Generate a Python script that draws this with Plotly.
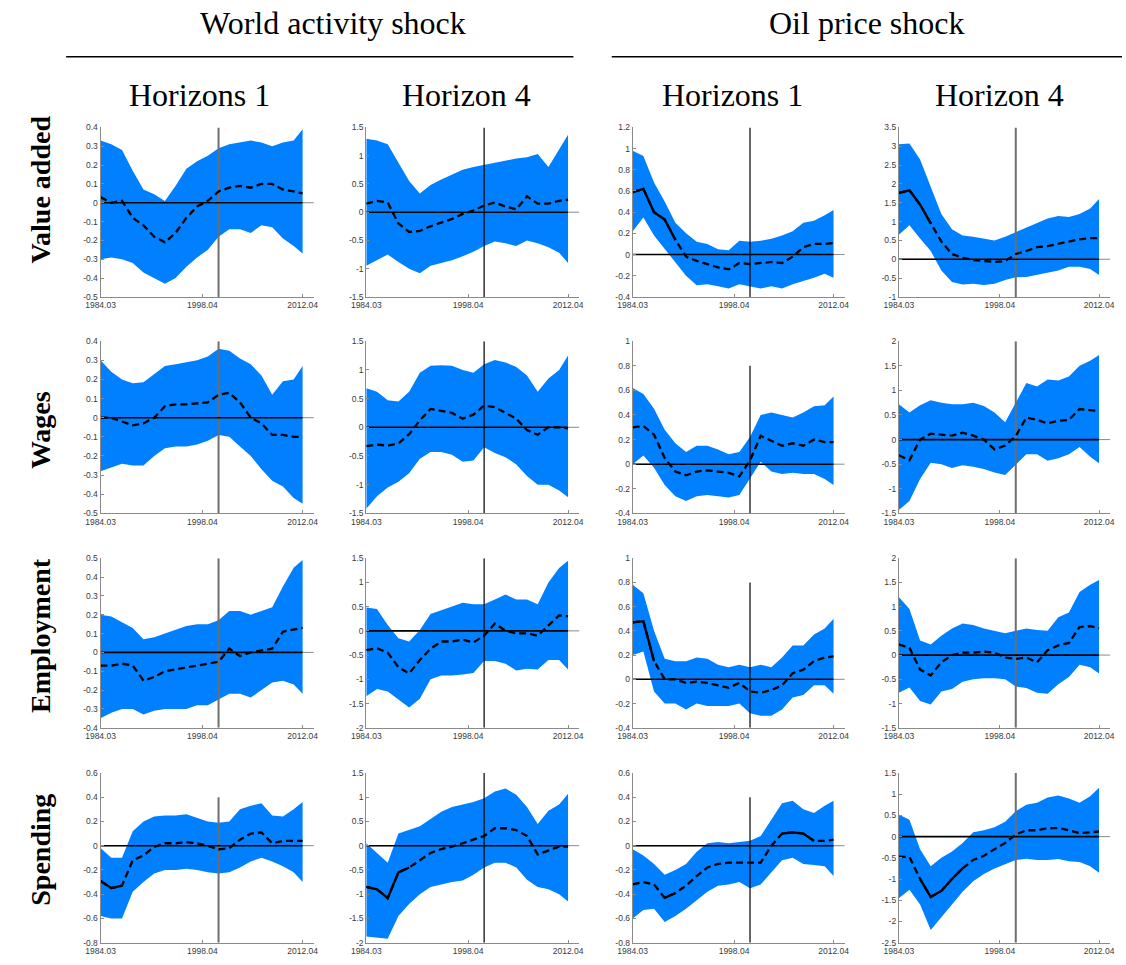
import numpy as np
import plotly.graph_objects as go

# ---------------- data ----------------
QUARTERS = [0, 6, 12, 18, 24, 30, 36, 42, 48, 54, 60, 66, 72, 78, 84, 90, 96, 102, 108, 113]
XTICK_VALS = [0, 57, 113]
XTICK_TEXT = ["1984.03", "1998.04", "2012.04"]
BREAK_Q = 66

SHOCKS = ["World activity shock", "Oil price shock"]
HORIZONS = ["Horizons 1", "Horizon 4", "Horizons 1", "Horizon 4"]
VARIABLES = ["Value added", "Wages", "Employment", "Spending"]

# Value added
va_w1_hi = [0.33, 0.31, 0.28, 0.17, 0.07, 0.045, 0.01, 0.09, 0.18, 0.22, 0.25, 0.29, 0.31, 0.32, 0.33, 0.32, 0.30, 0.32, 0.33, 0.39]
va_w1_lo = [-0.30, -0.29, -0.30, -0.32, -0.37, -0.40, -0.43, -0.40, -0.34, -0.29, -0.25, -0.18, -0.14, -0.14, -0.16, -0.12, -0.13, -0.19, -0.23, -0.27]
va_w1_md = [0.03, 0.00, 0.01, -0.08, -0.12, -0.18, -0.21, -0.16, -0.08, -0.02, 0.01, 0.06, 0.08, 0.09, 0.08, 0.10, 0.10, 0.07, 0.06, 0.05]

va_w4_hi = [1.30, 1.27, 1.20, 0.87, 0.55, 0.33, 0.48, 0.58, 0.67, 0.75, 0.80, 0.84, 0.88, 0.92, 0.95, 0.97, 1.03, 0.80, 1.10, 1.37]
va_w4_lo = [-0.95, -0.85, -0.75, -0.88, -1.00, -1.08, -0.95, -0.90, -0.85, -0.78, -0.70, -0.60, -0.52, -0.55, -0.60, -0.50, -0.55, -0.62, -0.72, -0.90]
va_w4_md = [0.15, 0.20, 0.17, -0.20, -0.35, -0.33, -0.25, -0.18, -0.12, -0.03, 0.03, 0.12, 0.17, 0.10, 0.05, 0.28, 0.15, 0.15, 0.20, 0.22]

va_o1_hi = [0.98, 0.93, 0.68, 0.50, 0.30, 0.20, 0.12, 0.10, 0.05, 0.04, 0.13, 0.12, 0.13, 0.15, 0.18, 0.22, 0.30, 0.32, 0.37, 0.42]
va_o1_lo = [0.22, 0.35, 0.18, 0.05, -0.08, -0.20, -0.29, -0.28, -0.30, -0.32, -0.28, -0.30, -0.32, -0.30, -0.32, -0.28, -0.25, -0.22, -0.18, -0.22]
va_o1_md = [0.59, 0.62, 0.40, 0.33, 0.14, -0.02, -0.06, -0.09, -0.12, -0.14, -0.08, -0.09, -0.08, -0.07, -0.08, -0.02, 0.07, 0.10, 0.10, 0.11]

va_o4_hi = [3.05, 3.07, 2.65, 1.90, 1.20, 0.80, 0.63, 0.60, 0.55, 0.50, 0.60, 0.72, 0.85, 0.95, 1.08, 1.15, 1.12, 1.20, 1.35, 1.60]
va_o4_lo = [0.65, 0.90, 0.55, 0.22, -0.30, -0.60, -0.67, -0.65, -0.68, -0.65, -0.55, -0.48, -0.47, -0.42, -0.37, -0.30, -0.20, -0.20, -0.26, -0.42]
va_o4_md = [1.76, 1.83, 1.45, 0.95, 0.47, 0.14, 0.04, -0.02, -0.05, -0.07, -0.05, 0.14, 0.22, 0.32, 0.35, 0.40, 0.47, 0.53, 0.56, 0.56]

# Wages
wg_w1_hi = [0.30, 0.24, 0.20, 0.18, 0.185, 0.23, 0.27, 0.28, 0.29, 0.30, 0.32, 0.36, 0.35, 0.31, 0.28, 0.22, 0.12, 0.19, 0.20, 0.27]
wg_w1_lo = [-0.28, -0.26, -0.24, -0.25, -0.25, -0.20, -0.16, -0.15, -0.15, -0.14, -0.12, -0.09, -0.10, -0.15, -0.20, -0.27, -0.33, -0.36, -0.42, -0.45]
wg_w1_md = [0.00, 0.00, -0.02, -0.04, -0.03, 0.00, 0.06, 0.07, 0.07, 0.075, 0.08, 0.12, 0.13, 0.08, 0.00, -0.03, -0.09, -0.09, -0.10, -0.10]

wg_w4_hi = [0.68, 0.62, 0.47, 0.45, 0.62, 0.95, 1.07, 1.08, 1.07, 1.00, 0.95, 1.10, 1.17, 1.13, 1.05, 0.90, 0.62, 0.85, 1.00, 1.25]
wg_w4_lo = [-1.42, -1.20, -1.05, -0.95, -0.80, -0.55, -0.43, -0.43, -0.48, -0.60, -0.58, -0.35, -0.45, -0.52, -0.65, -0.85, -1.00, -1.00, -1.10, -1.22]
wg_w4_md = [-0.33, -0.30, -0.32, -0.28, -0.12, 0.12, 0.32, 0.28, 0.25, 0.15, 0.22, 0.38, 0.35, 0.25, 0.15, -0.05, -0.13, 0.00, 0.00, -0.02]

wg_o1_hi = [0.62, 0.57, 0.45, 0.28, 0.17, 0.10, 0.15, 0.15, 0.12, 0.08, 0.10, 0.22, 0.40, 0.42, 0.40, 0.38, 0.42, 0.47, 0.48, 0.55]
wg_o1_lo = [0.00, 0.07, -0.03, -0.17, -0.26, -0.30, -0.26, -0.25, -0.26, -0.27, -0.25, -0.12, 0.02, -0.06, -0.08, -0.07, -0.08, -0.08, -0.12, -0.17]
wg_o1_md = [0.30, 0.31, 0.24, 0.05, -0.06, -0.09, -0.06, -0.05, -0.06, -0.07, -0.10, 0.03, 0.23, 0.19, 0.15, 0.17, 0.15, 0.20, 0.18, 0.18]

wg_o4_hi = [0.72, 0.55, 0.70, 0.80, 0.75, 0.72, 0.72, 0.75, 0.68, 0.55, 0.35, 0.75, 1.15, 1.08, 1.22, 1.20, 1.28, 1.50, 1.60, 1.72]
wg_o4_lo = [-1.43, -1.25, -0.80, -0.47, -0.50, -0.58, -0.52, -0.55, -0.60, -0.67, -0.72, -0.50, -0.30, -0.30, -0.43, -0.38, -0.30, -0.15, -0.35, -0.48]
wg_o4_md = [-0.32, -0.42, 0.00, 0.12, 0.10, 0.08, 0.14, 0.08, 0.00, -0.20, -0.12, 0.07, 0.45, 0.40, 0.33, 0.38, 0.40, 0.62, 0.60, 0.58]

# Employment
em_w1_hi = [0.20, 0.19, 0.16, 0.13, 0.07, 0.08, 0.10, 0.12, 0.14, 0.15, 0.15, 0.17, 0.22, 0.22, 0.20, 0.22, 0.24, 0.35, 0.45, 0.49]
em_w1_lo = [-0.35, -0.32, -0.30, -0.30, -0.33, -0.31, -0.30, -0.30, -0.30, -0.28, -0.28, -0.25, -0.22, -0.22, -0.24, -0.20, -0.16, -0.15, -0.17, -0.22]
em_w1_md = [-0.07, -0.07, -0.06, -0.07, -0.15, -0.13, -0.10, -0.09, -0.08, -0.07, -0.06, -0.05, 0.02, -0.02, 0.00, 0.01, 0.02, 0.11, 0.12, 0.13]

em_w4_hi = [0.48, 0.45, 0.12, -0.15, -0.22, 0.02, 0.35, 0.43, 0.50, 0.58, 0.55, 0.55, 0.65, 0.75, 0.65, 0.65, 0.55, 1.00, 1.30, 1.45]
em_w4_lo = [-1.35, -1.20, -1.25, -1.42, -1.58, -1.40, -1.00, -0.92, -0.92, -0.90, -0.87, -0.62, -0.62, -0.68, -0.82, -0.78, -0.80, -0.60, -0.60, -0.80]
em_w4_md = [-0.40, -0.36, -0.45, -0.75, -0.88, -0.60, -0.37, -0.22, -0.22, -0.18, -0.24, -0.10, 0.15, 0.00, -0.05, -0.05, -0.10, 0.12, 0.32, 0.30]

em_o1_hi = [0.78, 0.71, 0.40, 0.17, 0.15, 0.15, 0.18, 0.17, 0.12, 0.10, 0.12, 0.10, 0.12, 0.10, 0.18, 0.28, 0.28, 0.37, 0.42, 0.50]
em_o1_lo = [0.20, 0.23, -0.10, -0.20, -0.20, -0.25, -0.20, -0.22, -0.22, -0.22, -0.20, -0.28, -0.30, -0.30, -0.25, -0.15, -0.13, -0.05, -0.05, -0.12]
em_o1_md = [0.47, 0.48, 0.15, 0.00, 0.00, -0.03, -0.02, -0.03, -0.05, -0.07, -0.03, -0.10, -0.11, -0.09, -0.05, 0.05, 0.08, 0.15, 0.18, 0.19]

em_o4_hi = [1.20, 0.95, 0.30, 0.22, 0.40, 0.55, 0.65, 0.62, 0.55, 0.50, 0.45, 0.50, 0.55, 0.52, 0.50, 0.78, 0.88, 1.30, 1.45, 1.55]
em_o4_lo = [-0.78, -0.67, -0.95, -1.02, -0.75, -0.70, -0.55, -0.50, -0.48, -0.48, -0.50, -0.65, -0.68, -0.78, -0.80, -0.60, -0.45, -0.20, -0.25, -0.38]
em_o4_md = [0.22, 0.15, -0.30, -0.42, -0.15, 0.00, 0.05, 0.05, 0.07, 0.05, -0.05, -0.08, -0.05, -0.15, 0.10, 0.20, 0.25, 0.58, 0.60, 0.55]

# Spending
sp_w1_hi = [-0.02, -0.10, -0.10, 0.12, 0.20, 0.24, 0.25, 0.25, 0.26, 0.23, 0.20, 0.19, 0.20, 0.30, 0.33, 0.35, 0.25, 0.24, 0.30, 0.36]
sp_w1_lo = [-0.58, -0.60, -0.60, -0.38, -0.30, -0.23, -0.20, -0.20, -0.19, -0.20, -0.22, -0.23, -0.22, -0.18, -0.13, -0.10, -0.13, -0.17, -0.22, -0.30]
sp_w1_md = [-0.29, -0.35, -0.33, -0.12, -0.08, -0.01, 0.02, 0.02, 0.03, 0.02, 0.00, -0.03, -0.02, 0.05, 0.10, 0.11, 0.02, 0.04, 0.04, 0.04]

sp_w4_hi = [0.05, -0.15, -0.35, 0.25, 0.33, 0.40, 0.55, 0.70, 0.80, 0.85, 0.90, 0.98, 1.12, 1.18, 1.05, 0.80, 0.45, 0.72, 0.85, 1.07]
sp_w4_lo = [-1.87, -1.90, -1.92, -1.45, -1.20, -1.00, -0.85, -0.80, -0.75, -0.72, -0.60, -0.45, -0.35, -0.35, -0.45, -0.70, -0.85, -0.90, -1.00, -1.15]
sp_w4_md = [-0.85, -0.90, -1.08, -0.55, -0.45, -0.30, -0.15, -0.07, -0.02, 0.05, 0.12, 0.20, 0.36, 0.36, 0.32, 0.20, -0.18, -0.10, -0.02, -0.02]

sp_o1_hi = [-0.03, -0.08, -0.15, -0.24, -0.20, -0.15, -0.05, 0.02, 0.03, 0.02, 0.03, 0.04, 0.08, 0.22, 0.35, 0.37, 0.30, 0.27, 0.33, 0.37]
sp_o1_lo = [-0.60, -0.53, -0.52, -0.63, -0.58, -0.52, -0.45, -0.38, -0.33, -0.32, -0.30, -0.35, -0.32, -0.22, -0.12, -0.10, -0.15, -0.16, -0.17, -0.25]
sp_o1_md = [-0.32, -0.30, -0.32, -0.43, -0.39, -0.33, -0.25, -0.18, -0.15, -0.14, -0.14, -0.14, -0.14, 0.00, 0.10, 0.11, 0.10, 0.04, 0.04, 0.05]

sp_o4_hi = [0.52, 0.40, -0.30, -0.70, -0.50, -0.35, -0.15, 0.10, 0.15, 0.22, 0.35, 0.60, 0.75, 0.80, 0.92, 0.97, 0.90, 0.80, 0.95, 1.15]
sp_o4_lo = [-1.45, -1.25, -1.60, -2.20, -1.90, -1.60, -1.30, -1.05, -0.88, -0.75, -0.65, -0.55, -0.52, -0.55, -0.55, -0.53, -0.58, -0.60, -0.70, -0.85]
sp_o4_md = [-0.47, -0.48, -1.00, -1.42, -1.28, -1.00, -0.75, -0.55, -0.45, -0.30, -0.15, 0.05, 0.15, 0.15, 0.20, 0.20, 0.15, 0.08, 0.10, 0.12]

# significant (solid) stretches of the median, in quarters
SOLID = {
    (0, 2): [(0, 24)], (0, 3): [(0, 18)],
    (2, 2): [(0, 12)],
    (3, 0): [(0, 12)], (3, 1): [(0, 24)], (3, 2): [(18, 24), (84, 102)], (3, 3): [(12, 36)],
}

# ---------------- panel settings ----------------
PANELS = {
    (0, 0): (va_w1_lo, va_w1_md, va_w1_hi, (-0.5, 0.4), 0.1, None),
    (0, 1): (va_w4_lo, va_w4_md, va_w4_hi, (-1.5, 1.5), 0.5, None),
    (0, 2): (va_o1_lo, va_o1_md, va_o1_hi, (-0.4, 1.2), 0.2, None),
    (0, 3): (va_o4_lo, va_o4_md, va_o4_hi, (-1.0, 3.5), 0.5, None),
    (1, 0): (wg_w1_lo, wg_w1_md, wg_w1_hi, (-0.5, 0.4), 0.1, None),
    (1, 1): (wg_w4_lo, wg_w4_md, wg_w4_hi, (-1.5, 1.5), 0.5, None),
    (1, 2): (wg_o1_lo, wg_o1_md, wg_o1_hi, (-0.4, 1.0), 0.2, 0.8),
    (1, 3): (wg_o4_lo, wg_o4_md, wg_o4_hi, (-1.5, 2.0), 0.5, None),
    (2, 0): (em_w1_lo, em_w1_md, em_w1_hi, (-0.4, 0.5), 0.1, None),
    (2, 1): (em_w4_lo, em_w4_md, em_w4_hi, (-2.0, 1.5), 0.5, None),
    (2, 2): (em_o1_lo, em_o1_md, em_o1_hi, (-0.4, 1.0), 0.2, 0.8),
    (2, 3): (em_o4_lo, em_o4_md, em_o4_hi, (-1.5, 2.0), 0.5, None),
    (3, 0): (sp_w1_lo, sp_w1_md, sp_w1_hi, (-0.8, 0.6), 0.2, 0.4),
    (3, 1): (sp_w4_lo, sp_w4_md, sp_w4_hi, (-2.0, 1.5), 0.5, None),
    (3, 2): (sp_o1_lo, sp_o1_md, sp_o1_hi, (-0.8, 0.6), 0.2, 0.4),
    (3, 3): (sp_o4_lo, sp_o4_md, sp_o4_hi, (-2.5, 1.5), 0.5, None),
}

W, H = 1126, 965
COL_PX = [(87.0, 304.0), (357.3, 574.0), (628.3, 844.0), (899.0, 1114.0)]
ROW_PX = [(123.7, 295.0), (339.7, 513.7), (559.0, 730.3), (776.0, 947.5)]
X_END = 119.3
BAND = "rgb(0,128,255)"
AXIS_GRAY = "#8a8a8a"
TICK_FONT = dict(family="Liberation Sans, Arial, sans-serif", size=8.5, color="#3a3a3a")
SERIF = "Liberation Serif, Times New Roman, serif"

fig = go.Figure()
layout = dict(
    width=W, height=H, margin=dict(l=0, r=0, t=0, b=0),
    paper_bgcolor="white", plot_bgcolor="rgba(0,0,0,0)", showlegend=False,
    annotations=[], shapes=[],
)

for (r, c), (lo, md, hi, yr, dt, vtop) in PANELS.items():
    k = r * 4 + c + 1
    xa, ya = f"x{k}", f"y{k}"
    xkey, ykey = f"xaxis{k}", f"yaxis{k}"
    x0, x1 = COL_PX[c]
    yt, yb = ROW_PX[r]
    yvals = [float(np.round(v, 6)) + 0.0 for v in np.arange(yr[0], yr[1] + dt / 2, dt)]
    layout[xkey] = dict(
        domain=[x0 / W, x1 / W], range=[0, X_END], anchor=ya,
        showgrid=False, zeroline=False, showline=True, linecolor=AXIS_GRAY, linewidth=1,
        ticks="inside", ticklen=3, tickcolor=AXIS_GRAY,
        tickvals=XTICK_VALS, ticktext=XTICK_TEXT, tickfont=TICK_FONT,
    )
    layout[ykey] = dict(
        domain=[1 - yb / H, 1 - yt / H], range=list(yr), anchor=xa,
        showgrid=False, zeroline=False, showline=True, linecolor=AXIS_GRAY, linewidth=1,
        ticks="inside", ticklen=3, tickcolor=AXIS_GRAY,
        tickvals=yvals, ticktext=[f"{v:g}" for v in yvals], tickfont=TICK_FONT,
    )
    # band
    fig.add_trace(go.Scatter(x=QUARTERS, y=lo, mode="lines", line=dict(width=0, color=BAND),
                             hoverinfo="skip", xaxis=xa, yaxis=ya))
    fig.add_trace(go.Scatter(x=QUARTERS, y=hi, mode="lines", line=dict(width=0, color=BAND),
                             fill="tonexty", fillcolor=BAND, hoverinfo="skip", xaxis=xa, yaxis=ya))
    # vertical break line
    vcol, vw = ("#6e6e6e", 2) if c in (0, 3) else ("black", 1.2)
    fig.add_trace(go.Scatter(x=[BREAK_Q, BREAK_Q], y=[yr[0], vtop if vtop is not None else yr[1]],
                             mode="lines", line=dict(color=vcol, width=vw),
                             hoverinfo="skip", xaxis=xa, yaxis=ya))
    # zero lines
    fig.add_trace(go.Scatter(x=[0, X_END], y=[0, 0], mode="lines", line=dict(color="#8a8a8a", width=1),
                             hoverinfo="skip", xaxis=xa, yaxis=ya))
    fig.add_trace(go.Scatter(x=[QUARTERS[0], QUARTERS[-1]], y=[0, 0], mode="lines",
                             line=dict(color="black", width=1.6), hoverinfo="skip", xaxis=xa, yaxis=ya))
    # median: dashed everywhere, solid over significant stretches
    fig.add_trace(go.Scatter(x=QUARTERS, y=md, mode="lines",
                             line=dict(color="black", width=2.3, dash="7px,4px"),
                             hoverinfo="skip", xaxis=xa, yaxis=ya))
    for (s, e) in SOLID.get((r, c), []):
        xs = [q for q in QUARTERS if s <= q <= e]
        ys = [m for q, m in zip(QUARTERS, md) if s <= q <= e]
        fig.add_trace(go.Scatter(x=xs, y=ys, mode="lines", line=dict(color="black", width=2.3),
                                 hoverinfo="skip", xaxis=xa, yaxis=ya))

# headers
for txt, cx in zip(SHOCKS, [323, 866.5]):
    layout["annotations"].append(dict(text=txt, x=cx / W, y=1 - 18 / H, xref="paper", yref="paper",
                                      showarrow=False, xanchor="center", yanchor="middle",
                                      font=dict(family=SERIF, size=32, color="black")))
layout["shapes"].append(dict(type="line", xref="paper", yref="paper", x0=52 / W, x1=568 / W,
                             y0=1 - 52.3 / H, y1=1 - 52.3 / H, line=dict(color="black", width=1.5)))
layout["shapes"].append(dict(type="line", xref="paper", yref="paper", x0=607 / W, x1=1.0,
                             y0=1 - 52.3 / H, y1=1 - 52.3 / H, line=dict(color="black", width=1.5)))
for txt, cx in zip(HORIZONS, [187.5, 459, 729.5, 1001.5]):
    layout["annotations"].append(dict(text=txt, x=cx / W, y=1 - 91 / H, xref="paper", yref="paper",
                                      showarrow=False, xanchor="center", yanchor="middle",
                                      font=dict(family=SERIF, size=32, color="black")))
for txt, cy in zip(VARIABLES, [187, 430, 637, 854]):
    layout["annotations"].append(dict(text=f"<b>{txt}</b>", x=26 / W, y=1 - cy / H, xref="paper", yref="paper",
                                      showarrow=False, xanchor="center", yanchor="middle", textangle=-90,
                                      font=dict(family=SERIF, size=28, color="black")))

fig.update_layout(**layout)
fig.write_html("out.html", config={"displayModeBar": False},
               post_script="document.body.style.margin='0px';")
